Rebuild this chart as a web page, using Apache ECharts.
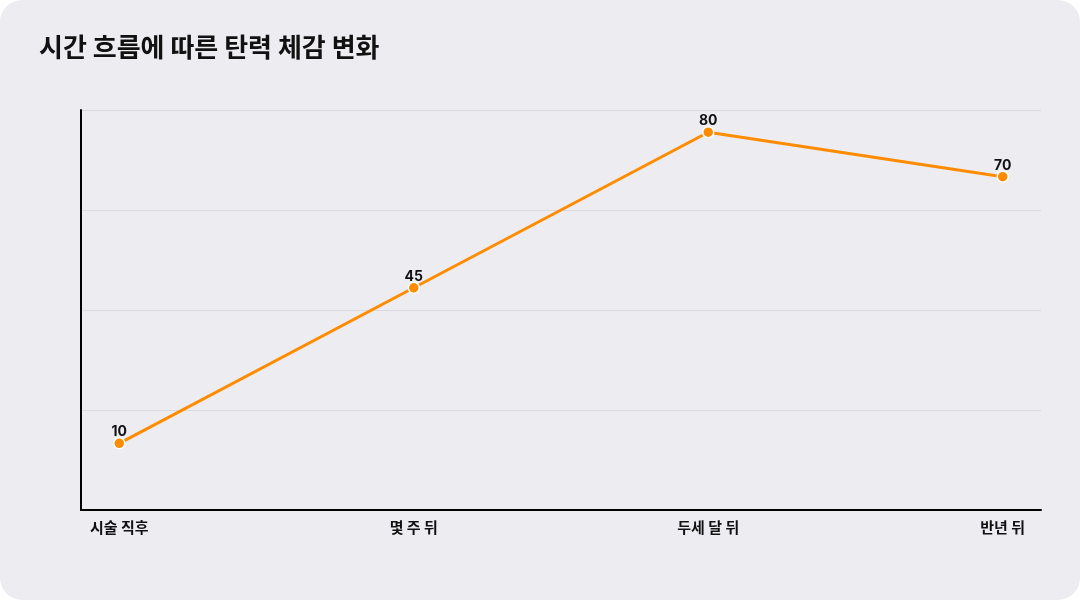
<!DOCTYPE html>
<html>
<head>
<meta charset="utf-8">
<script src="https://cdn.jsdelivr.net/npm/echarts@6/dist/echarts.min.js"></script>
<style>
  html, body { margin: 0; padding: 0; background: #ffffff; }
  #card { width: 1080px; height: 600px; background: #EDECF1; border-radius: 22px; overflow: hidden; }
  #main { width: 1080px; height: 600px; }
</style>
</head>
<body>
<div id="card"><div id="main"></div></div>
<script>
// 데이터
var categories = ['시술 직후', '몇 주 뒤', '두세 달 뒤', '반년 뒤'];
var values = [10, 45, 80, 70];

var font = 'Inter, "Noto Sans CJK KR", "Noto Sans", sans-serif';
var titleFont = '"Noto Sans CJK KR", sans-serif';

var chart = echarts.init(document.getElementById('main'), null, { renderer: 'canvas' });

var points = values.map(function (v, i) { return [i, v]; });

var option = {
  backgroundColor: 'transparent',
  title: {
    text: '시간 흐름에 따른 탄력 체감 변화',
    left: 34,
    top: 29,
    textStyle: { fontFamily: titleFont, fontSize: 26, fontWeight: 'bold', color: '#111111' }
  },
  grid: { left: 81, right: 39, top: 110, bottom: 90 },
  xAxis: {
    type: 'value',
    min: -0.13,
    max: 3.13,
    axisLine: { show: true, onZero: false, lineStyle: { color: '#000000', width: 2 } },
    axisTick: { show: false },
    splitLine: { show: false },
    axisLabel: {
      customValues: [0, 1, 2, 3],
      formatter: function (v) { return categories[Math.round(v)]; },
      fontFamily: titleFont,
      fontSize: 15,
      fontWeight: 'bold',
      color: '#111111',
      margin: 10
    }
  },
  yAxis: {
    type: 'value',
    min: -5,
    max: 85,
    interval: 22.5,
    axisLine: { show: true, onZero: false, lineStyle: { color: '#000000', width: 2 } },
    axisTick: { show: false },
    axisLabel: { show: false },
    splitLine: { lineStyle: { color: '#DAD9DE', width: 1 } }
  },
  series: [{
    type: 'line',
    data: points,
    symbol: 'circle',
    symbolSize: 11,
    lineStyle: { color: '#FF8C00', width: 3 },
    itemStyle: { color: '#FF8C00', borderColor: '#ffffff', borderWidth: 1.5 },
    label: {
      show: true,
      position: 'top',
      distance: -2,
      formatter: function (p) { return p.value[1]; },
      fontFamily: font,
      fontSize: 14,
      fontWeight: 'bold',
      color: '#111111'
    }
  }]
};

chart.setOption(option);
</script>
</body>
</html>
